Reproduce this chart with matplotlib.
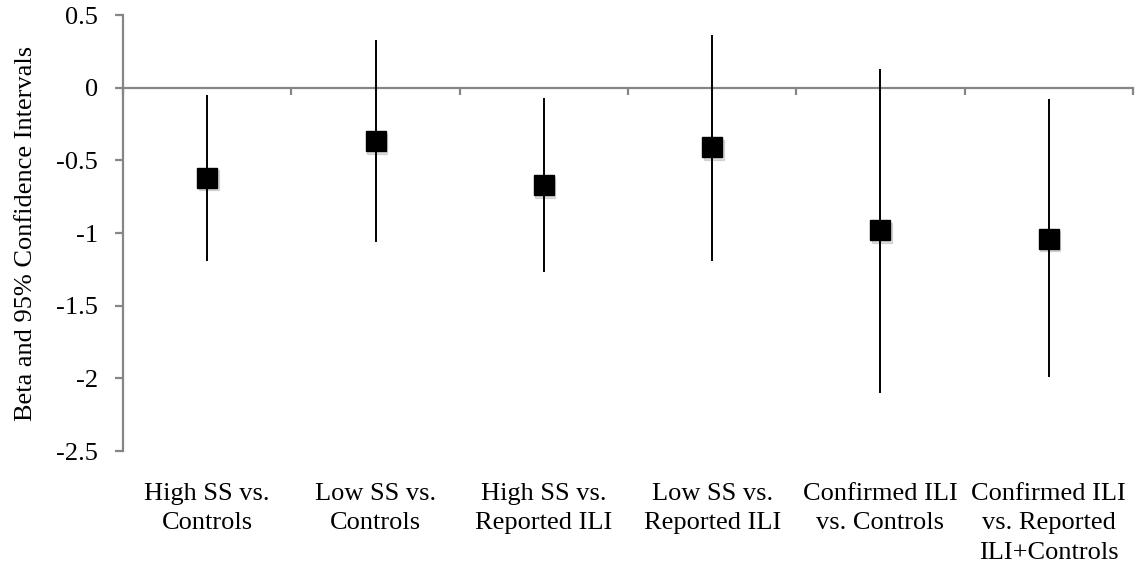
import matplotlib
matplotlib.use("Agg")
import matplotlib.pyplot as plt
import matplotlib.transforms as mtransforms
import numpy as np

categories = ["High SS vs.\nControls", "Low SS vs.\nControls", "High SS vs.\nReported ILI",
              "Low SS vs.\nReported ILI", "Confirmed ILI\nvs. Controls",
              "Confirmed ILI\nvs. Reported\nILI+Controls"]
beta = [-0.62, -0.37, -0.67, -0.41, -0.98, -1.04]
ci_upper = [-0.05, 0.33, -0.07, 0.36, 0.13, -0.08]
ci_lower = [-1.19, -1.06, -1.27, -1.19, -2.10, -1.99]
yticks = [0.5, 0, -0.5, -1, -1.5, -2, -2.5]
ytick_labels = ["0.5", "0", "-0.5", "-1", "-1.5", "-2", "-2.5"]

plt.rcParams['font.family'] = ['Liberation Serif', 'DejaVu Serif']
fs = 19

fig = plt.figure(figsize=(11.38, 5.69), dpi=100)
ax = fig.add_axes([123/1138, 1 - 451/569, (1133 - 123)/1138, (451 - 15)/569])

n = len(categories)
x = np.arange(n)
beta_a = np.array(beta)
up = np.array(ci_upper) - beta_a
lo = beta_a - np.array(ci_lower)

gray = "#868686"
ax.set_xlim(-0.5, n - 0.5)
ax.set_ylim(-2.5, 0.5)

ax.spines['top'].set_visible(False)
ax.spines['right'].set_visible(False)
ax.spines['left'].set_color(gray)
ax.spines['left'].set_linewidth(1.6)
ax.spines['bottom'].set_position(('data', 0))
ax.spines['bottom'].set_color(gray)
ax.spines['bottom'].set_linewidth(1.6)

ax.set_yticks(yticks)
ax.set_yticklabels(ytick_labels, fontsize=fs)
ax.tick_params(axis='y', direction='out', length=6, width=1.6, color=gray, pad=12)

ax.set_xticks(np.arange(n + 1) - 0.5)
ax.set_xticklabels([])
ax.tick_params(axis='x', direction='out', length=5, width=1.6, color=gray)

# soft shadow under markers
shadow_off = mtransforms.offset_copy(ax.transData, fig=fig, x=1.5, y=-2.5, units='dots')
ax.plot(x, beta_a, linestyle='none', marker='s', markersize=14.5, color='#000000',
        alpha=0.12, transform=shadow_off, zorder=2)
ax.errorbar(x, beta_a, yerr=[lo, up], fmt='s', color='black', ecolor='black',
            elinewidth=1.4, markersize=14.5, capsize=0, zorder=3)

trans = mtransforms.blended_transform_factory(ax.transData, ax.transAxes)
for xi, lab in zip(x, categories):
    ax.text(xi, -0.074, lab, transform=trans, ha='center', va='top', fontsize=fs,
            linespacing=1.42)

ax.set_ylabel("Beta and 95% Confidence Intervals", fontsize=fs, labelpad=14)

fig.savefig("out.png", dpi=100)
